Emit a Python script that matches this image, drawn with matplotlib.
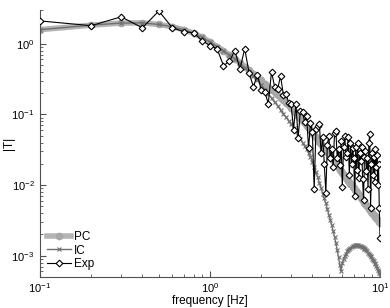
import numpy as np
import matplotlib
matplotlib.use("Agg")
import matplotlib.pyplot as plt

plt.rcParams["font.family"] = ["Liberation Sans", "DejaVu Sans"]
plt.rcParams["mathtext.fontset"] = "custom"
plt.rcParams["mathtext.rm"] = "Liberation Sans"

# frequency grid, 0.1 Hz steps
freq = [round(0.1 * k, 1) for k in range(1, 101)]

pc = [1.58, 1.83, 1.96, 1.97, 1.87, 1.74, 1.58, 1.41, 1.23, 1.06,
      0.912, 0.794, 0.692, 0.610, 0.537, 0.475, 0.422, 0.376, 0.336, 0.302,
      0.272, 0.246, 0.224, 0.205, 0.188, 0.173, 0.159, 0.146, 0.134, 0.123,
      0.113, 0.104, 0.0955, 0.0880, 0.0812, 0.0749, 0.0692, 0.0640, 0.0592, 0.0548,
      0.0508, 0.0472, 0.0439, 0.0408, 0.0380, 0.0354, 0.0331, 0.0309, 0.0289, 0.0271,
      0.0254, 0.0238, 0.0224, 0.0210, 0.0198, 0.0187, 0.0176, 0.0166, 0.0157, 0.0149,
      0.0141, 0.0134, 0.0127, 0.0121, 0.0115, 0.0109, 0.0104, 0.00990, 0.00944, 0.00900,
      0.00860, 0.00822, 0.00786, 0.00752, 0.00720, 0.00690, 0.00661, 0.00634, 0.00609, 0.00585,
      0.00562, 0.00540, 0.00520, 0.00500, 0.00482, 0.00464, 0.00448, 0.00432, 0.00417, 0.00402,
      0.00389, 0.00376, 0.00363, 0.00351, 0.00340, 0.00329, 0.00319, 0.00309, 0.00300, 0.00291]

ic = [1.58, 1.83, 1.96, 1.97, 1.87, 1.74, 1.58, 1.41, 1.23, 1.06,
      0.912, 0.794, 0.692, 0.605, 0.525, 0.457, 0.398, 0.347, 0.302, 0.263,
      0.224, 0.195, 0.170, 0.148, 0.132, 0.115, 0.102, 0.0912, 0.0813, 0.0724,
      0.0646, 0.0575, 0.0501, 0.0447, 0.0398, 0.0355, 0.0324, 0.0282, 0.0251, 0.0214,
      0.0182, 0.0151, 0.0129, 0.0107, 0.00912, 0.00759, 0.00646, 0.00550, 0.00457, 0.00380,
      0.00324, 0.00269, 0.00224, 0.00186, 0.00151, 0.00120, 0.000955, 0.000741, 0.000603, 0.000794,
      0.000912, 0.00100, 0.00107, 0.00115, 0.00120, 0.00126, 0.00130, 0.00133, 0.00136, 0.00138,
      0.00140, 0.00140, 0.00141, 0.00140, 0.00139, 0.00138, 0.00136, 0.00134, 0.00132, 0.00129,
      0.00126, 0.00123, 0.00119, 0.00115, 0.00111, 0.00107, 0.00104, 0.00100, 0.000955, 0.000912,
      0.000871, 0.000832, 0.000794, 0.000759, 0.000716, 0.000676, 0.000638, 0.000603, 0.000562, 0.000525]

exp_data = [2.1, 1.8, 2.4, 1.68, 2.9, 1.68, 1.48, 1.43, 1.1, 0.94,
            0.85, 0.49, 0.56, 0.80, 0.44, 0.85, 0.38, 0.246, 0.365, 0.224,
            0.21, 0.142, 0.40, 0.246, 0.23, 0.35, 0.19, 0.196, 0.146, 0.138,
            0.061, 0.138, 0.047, 0.112, 0.107, 0.079, 0.095, 0.033, 0.076, 0.056,
            0.0087, 0.063, 0.069, 0.072, 0.028, 0.048, 0.020, 0.0078, 0.037, 0.050,
            0.024, 0.032, 0.018, 0.054, 0.059, 0.024, 0.032, 0.019, 0.042, 0.0094,
            0.035, 0.050, 0.025, 0.028, 0.048, 0.014, 0.040, 0.020, 0.033, 0.024,
            0.0069, 0.035, 0.0166, 0.040, 0.0126, 0.028, 0.022, 0.035, 0.012, 0.0062,
            0.025, 0.030, 0.016, 0.024, 0.0089, 0.040, 0.052, 0.0048, 0.020, 0.028,
            0.014, 0.025, 0.0112, 0.032, 0.018, 0.027, 0.010, 0.020, 0.0048, 0.0018]

fig = plt.figure(figsize=(3.9, 3.08), dpi=100)
ax = fig.add_axes([0.1026, 0.1006, 0.8718, 0.867])

ax.plot(freq, pc, "-o", color="#b4b4b4", lw=4, ms=4.5, mfc="#a8a8a8",
        mec="#a8a8a8", label="PC", zorder=1)
ax.plot(freq, ic, "-x", color="#707070", lw=1.0, ms=3, mew=0.8, label="IC",
        zorder=2)
ax.plot(freq, exp_data, "-D", color="black", lw=0.8, ms=3.4, mfc="white",
        mec="black", mew=0.8, label="Exp", zorder=3)

ax.set_xscale("log")
ax.set_yscale("log")
ax.set_xlim(0.1, 10)
ax.set_ylim(5e-4, 3)

for side in ["top", "right"]:
    ax.spines[side].set_visible(False)
for side in ["left", "bottom"]:
    ax.spines[side].set_color("#505050")
    ax.spines[side].set_linewidth(0.8)
ax.tick_params(which="both", direction="in", colors="#505050", labelcolor="black",
               labelsize=8)
ax.tick_params(which="major", length=4)
ax.tick_params(which="minor", length=2)
ax.tick_params(axis="x", pad=3)
ax.tick_params(axis="y", pad=4)

ax.set_xlabel("frequency [Hz]", fontsize=8.5)
ax.set_ylabel("|T|", fontsize=8.5)
ax.xaxis.set_label_coords(0.5, -0.066)
ax.yaxis.set_label_coords(-0.075, 0.5)

ax.legend(loc="lower left", bbox_to_anchor=(0.0, 0.0), frameon=False,
          fontsize=8.5, handlelength=2.0, handletextpad=0.3, labelspacing=0.12,
          borderaxespad=0.2)

fig.savefig("out.png", dpi=100)
